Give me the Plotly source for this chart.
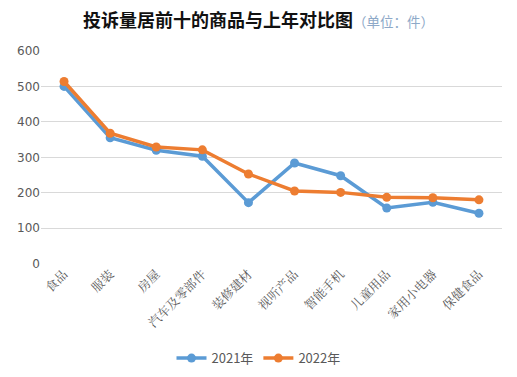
import plotly.graph_objects as go

categories = ["食品", "服装", "房屋", "汽车及零部件", "装修建材", "视听产品", "智能手机", "儿童用品", "家用小电器", "保健食品"]
values_2021 = [500, 355, 320, 303, 172, 284, 248, 157, 173, 142]
values_2022 = [514, 368, 329, 321, 253, 205, 201, 187, 186, 180]
series_names = ["2021年", "2022年"]
y_ticks = [0, 100, 200, 300, 400, 500, 600]

fig = go.Figure()
fig.add_trace(go.Scatter(
    x=categories, y=values_2021, name=series_names[0], mode="lines+markers",
    line=dict(color="#5B9BD5", width=3.5), marker=dict(size=9, color="#5B9BD5")))
fig.add_trace(go.Scatter(
    x=categories, y=values_2022, name=series_names[1], mode="lines+markers",
    line=dict(color="#ED7D31", width=3.5), marker=dict(size=9, color="#ED7D31")))

fig.update_layout(
    width=517, height=377,
    paper_bgcolor="white", plot_bgcolor="white",
    margin=dict(l=41, r=15, t=51, b=110),
    title=dict(
        text="<b>投诉量居前十的商品与上年对比图</b><span style='font-size:13.5px;color:#8EA9C8;font-weight:normal'>（单位：件）</span>",
        x=0.5, xanchor="center", y=0.945, yanchor="middle",
        font=dict(family="Noto Sans CJK SC", size=18, color="#111111")),
    font=dict(family="Noto Sans CJK SC", color="#595959"),
    showlegend=True,
    legend=dict(orientation="h", x=0.5, xanchor="center", xref="container",
                y=0.05, yanchor="middle", yref="container",
                font=dict(size=13, color="#595959"), traceorder="normal"),
    xaxis=dict(range=[-0.5, 9.5], tickangle=-45, showgrid=False, showline=False,
               zeroline=False, ticks="", tickfont=dict(size=12.5, color="#595959",
               family="Noto Serif CJK SC, Noto Sans CJK SC")),
    yaxis=dict(range=[0, 600], tickvals=y_ticks, showgrid=True, gridcolor="#D9D9D9",
               gridwidth=1, zeroline=False, showline=False, ticks="",
               tickfont=dict(size=12, color="#595959", family="DejaVu Sans")),
)

fig.write_html("out.html", config={"displayModeBar": False},
               post_script="document.body.style.margin='0';")
